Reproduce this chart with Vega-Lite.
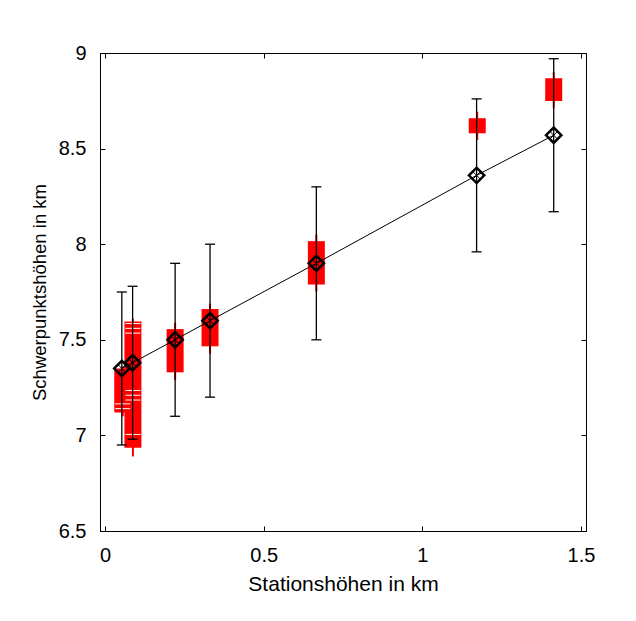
{
  "$schema": "https://vega.github.io/schema/vega-lite/v6.json",
  "width": 486,
  "height": 478,
  "autosize": {"type": "none"},
  "padding": {"left": 100, "top": 53, "right": 50, "bottom": 90},
  "background": "white",
  "config": {
    "view": {"stroke": "black", "strokeWidth": 1},
    "font": "Liberation Sans",
    "axis": {"grid": false, "domainColor": "black", "tickColor": "black", "labelColor": "black", "titleColor": "black", "labelFont": "Liberation Sans", "titleFont": "Liberation Sans", "titleFontWeight": "normal", "format": "~g"}
  },
  "datasets": {
    "means": [
      {"station": 0.053, "height": 7.35, "elo": 6.95, "ehi": 7.75},
      {"station": 0.087, "height": 7.38, "elo": 6.98, "ehi": 7.78},
      {"station": 0.221, "height": 7.50, "elo": 7.10, "ehi": 7.90},
      {"station": 0.331, "height": 7.60, "elo": 7.20, "ehi": 8.00},
      {"station": 0.666, "height": 7.90, "elo": 7.50, "ehi": 8.30},
      {"station": 1.171, "height": 8.36, "elo": 7.96, "ehi": 8.76},
      {"station": 1.414, "height": 8.57, "elo": 8.17, "ehi": 8.97}
    ],
    "boxes": [
      {"station": 0.056, "lo": 7.12, "hi": 7.35, "wlo": 7.10, "whi": 7.36},
      {"station": 0.088, "lo": 6.935, "hi": 7.596, "wlo": 6.89, "whi": 7.61},
      {"station": 0.221, "lo": 7.33, "hi": 7.556, "wlo": 7.29, "whi": 7.59},
      {"station": 0.331, "lo": 7.466, "hi": 7.661, "wlo": 7.427, "whi": 7.689},
      {"station": 0.666, "lo": 7.789, "hi": 8.016, "wlo": 7.753, "whi": 8.049},
      {"station": 1.173, "lo": 8.58, "hi": 8.659, "wlo": 8.545, "whi": 8.693},
      {"station": 1.414, "lo": 8.749, "hi": 8.868, "wlo": 8.711, "whi": 8.899}
    ],
    "gaps": [
      {"station": 0.088, "y": 7.585},
      {"station": 0.088, "y": 7.56},
      {"station": 0.088, "y": 7.535},
      {"station": 0.088, "y": 7.235},
      {"station": 0.088, "y": 7.21},
      {"station": 0.088, "y": 7.185},
      {"station": 0.088, "y": 7.005},
      {"station": 0.056, "y": 7.165},
      {"station": 0.056, "y": 7.14}
    ]
  },
  "resolve": {"axis": {"x": "independent", "y": "independent"}},
  "layer": [
    {
      "data": {"name": "boxes"},
      "mark": {"type": "rule", "color": "#ff0000", "strokeWidth": 2},
      "encoding": {
        "x": {"field": "station", "type": "quantitative", "scale": {"domain": [0, 1.5], "nice": false},
          "axis": {"orient": "bottom", "values": [0, 0.5, 1, 1.5], "title": "Stationshöhen in km", "titleFontSize": 21, "titlePadding": 8, "labelFontSize": 20, "tickSize": -5, "labelPadding": 19, "labelFlush": false}},
        "y": {"field": "wlo", "type": "quantitative", "scale": {"domain": [6.5, 9], "nice": false, "zero": false},
          "axis": {"orient": "left", "values": [6.5, 7, 7.5, 8, 8.5, 9], "title": "Schwerpunktshöhen in km", "titleFontSize": 18.5, "titlePadding": 9, "labelFontSize": 20, "tickSize": -5, "labelPadding": 19, "labelFlush": false}},
        "y2": {"field": "whi"}
      }
    },
    {
      "data": {"name": "boxes"},
      "mark": {"type": "bar", "color": "#ff0000", "size": 17},
      "encoding": {
        "x": {"field": "station", "type": "quantitative",
          "axis": {"orient": "top", "values": [0, 0.5, 1, 1.5], "labels": false, "title": null, "tickSize": -5}},
        "y": {"field": "lo", "type": "quantitative",
          "axis": {"orient": "right", "values": [6.5, 7, 7.5, 8, 8.5, 9], "labels": false, "title": null, "tickSize": -5}},
        "y2": {"field": "hi"}
      }
    },
    {
      "data": {"name": "gaps"},
      "mark": {"type": "tick", "orient": "horizontal", "color": "white", "thickness": 1, "size": 15, "opacity": 1},
      "encoding": {
        "x": {"field": "station", "type": "quantitative", "axis": null},
        "y": {"field": "y", "type": "quantitative", "axis": null}
      }
    },
    {
      "data": {"name": "means"},
      "mark": {"type": "rule", "color": "black", "strokeWidth": 1.3},
      "encoding": {
        "x": {"field": "station", "type": "quantitative", "axis": null},
        "y": {"field": "elo", "type": "quantitative", "axis": null},
        "y2": {"field": "ehi"}
      }
    },
    {
      "data": {"name": "means"},
      "mark": {"type": "tick", "orient": "horizontal", "color": "black", "thickness": 1.3, "size": 10, "opacity": 1},
      "encoding": {
        "x": {"field": "station", "type": "quantitative", "axis": null},
        "y": {"field": "elo", "type": "quantitative", "axis": null}
      }
    },
    {
      "data": {"name": "means"},
      "mark": {"type": "tick", "orient": "horizontal", "color": "black", "thickness": 1.3, "size": 10, "opacity": 1},
      "encoding": {
        "x": {"field": "station", "type": "quantitative", "axis": null},
        "y": {"field": "ehi", "type": "quantitative", "axis": null}
      }
    },
    {
      "data": {"name": "means"},
      "mark": {"type": "line", "color": "black", "strokeWidth": 1},
      "encoding": {
        "x": {"field": "station", "type": "quantitative", "axis": null},
        "y": {"field": "height", "type": "quantitative", "axis": null}
      }
    },
    {
      "data": {"name": "means"},
      "mark": {"type": "point", "shape": "diamond", "filled": false, "color": "black", "strokeWidth": 2.5, "size": 235, "opacity": 1},
      "encoding": {
        "x": {"field": "station", "type": "quantitative", "axis": null},
        "y": {"field": "height", "type": "quantitative", "axis": null}
      }
    },
    {
      "data": {"name": "means"},
      "mark": {"type": "point", "shape": "M-1,-1L1,1M-1,1L1,-1", "filled": false, "color": "black", "strokeWidth": 1, "size": 55, "opacity": 1},
      "encoding": {
        "x": {"field": "station", "type": "quantitative", "axis": null},
        "y": {"field": "height", "type": "quantitative", "axis": null}
      }
    }
  ]
}
